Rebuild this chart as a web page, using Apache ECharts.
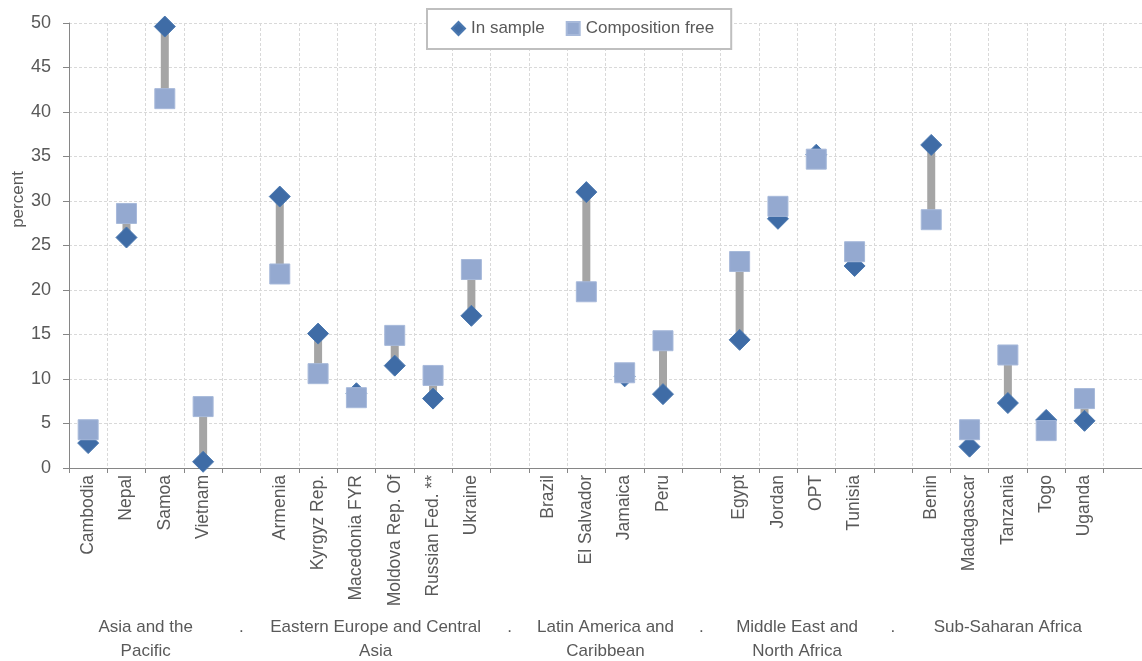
<!DOCTYPE html>
<html>
<head>
<meta charset="utf-8">
<script src="https://cdn.jsdelivr.net/npm/echarts@6/dist/echarts.min.js"></script>
<style>html,body{margin:0;padding:0;background:#fff}#c{width:1142px;height:661px}</style>
</head>
<body>
<div id="c"></div>
<script>
const categories = ['Cambodia','Nepal','Samoa','Vietnam','','Armenia','Kyrgyz Rep.','Macedonia FYR','Moldova Rep. Of','Russian Fed. **','Ukraine','','Brazil','El Salvador','Jamaica','Peru','','Egypt','Jordan','OPT','Tunisia','','Benin','Madagascar','Tanzania','Togo','Uganda',''];
const inSample = [2.8,25.9,49.6,0.7,null,30.5,15.1,8.4,11.5,7.8,17.1,null,null,31.0,10.3,8.3,null,14.4,28.0,35.2,22.7,null,36.3,2.4,7.3,5.4,5.3,null];
const compositionFree = [4.3,28.6,41.5,6.9,null,21.8,10.6,7.9,14.9,10.4,22.3,null,null,19.8,10.7,14.3,null,23.2,29.4,34.7,24.3,null,27.9,4.3,12.7,4.2,7.8,null];
const groupPositions = [1.5,4,7.5,11,13.5,16,18.5,21,24];
const groupLabels = ['Asia and the\nPacific','.','Eastern Europe and Central\nAsia','.','Latin America and\nCaribbean','.','Middle East and\nNorth Africa','.','Sub-Saharan Africa'];
const yTicks = {min:0,max:50,interval:5};

const NARROW = "'Liberation Sans Narrow','Arial Narrow','Liberation Sans',Arial,sans-serif";
const REG = "'Liberation Sans',Arial,sans-serif";
const TXT = '#595959';

const rangeData = [];
categories.forEach((c,i)=>{
  if(inSample[i]!=null && compositionFree[i]!=null) rangeData.push([i,inSample[i],compositionFree[i]]);
});

const chart = echarts.init(document.getElementById('c'), null, {renderer:'canvas'});
chart.setOption({
  animation:false,
  backgroundColor:'#fff',
  grid:{left:69,right:0,top:23,bottom:193,containLabel:false,outerBoundsMode:'none'},
  legend:{
    left:427, top:9,
    padding:[11,17,12,24],
    itemGap:21, itemWidth:13, itemHeight:13,
    borderColor:'#BFBFBF', borderWidth:2, backgroundColor:'#fff',
    textStyle:{fontFamily:NARROW,fontSize:17,color:TXT,padding:[0,0,0,1]},
    data:[{name:'In sample',icon:'diamond'},{name:'Composition free',icon:'rect'}]
  },
  xAxis:[{
    type:'category', data:categories, gridIndex:0,
    axisLine:{onZero:false,lineStyle:{color:'#868686',width:1}},
    axisTick:{show:true,length:5,lineStyle:{color:'#868686'}},
    splitLine:{show:true,lineStyle:{color:'#D9D9D9',type:[3,2],width:1}},
    axisLabel:{rotate:90,interval:0,margin:7,fontFamily:REG,fontSize:17.5,color:TXT}
  },{
    type:'value', gridIndex:0, position:'bottom',
    min:-0.5, max:27.5,
    axisLine:{show:false,onZero:false}, axisTick:{show:false}, splitLine:{show:false},
    axisLabel:{
      show:true, margin:147, fontFamily:NARROW, fontSize:17, color:TXT, lineHeight:24,
      verticalAlign:'top', hideOverlap:false,
      customValues:groupPositions,
      formatter:function(v){
        for(let k=0;k<groupPositions.length;k++){ if(Math.abs(groupPositions[k]-v)<1e-6) return groupLabels[k]; }
        return '';
      }
    }
  }],
  yAxis:{
    type:'value', min:yTicks.min, max:yTicks.max, interval:yTicks.interval,
    name:'percent', nameLocation:'middle', nameGap:42, nameRotate:90, nameMoveOverlap:false,
    nameTextStyle:{fontFamily:REG,fontSize:17,color:TXT,padding:[0,0,0,92]},
    axisLine:{show:true,onZero:false,lineStyle:{color:'#868686',width:1}},
    axisTick:{show:true,length:6,lineStyle:{color:'#868686'}},
    splitLine:{show:true,lineStyle:{color:'#D9D9D9',type:[3,2],width:1}},
    axisLabel:{fontFamily:NARROW,fontSize:18,color:TXT,margin:18}
  },
  series:[{
    type:'custom', name:'range', z:1, silent:true,
    renderItem:function(params,api){
      const x=api.value(0);
      const p1=api.coord([x,api.value(1)]);
      const p2=api.coord([x,api.value(2)]);
      return {type:'line',shape:{x1:p1[0],y1:p1[1],x2:p2[0],y2:p2[1]},style:{stroke:'#A5A5A5',lineWidth:8}};
    },
    encode:{x:0,y:[1,2]},
    data:rangeData
  },{
    type:'scatter', name:'In sample', z:2,
    symbol:'diamond', symbolSize:21,
    itemStyle:{color:'#3F6CA6',borderColor:'#4A78B0',borderWidth:1,opacity:1},
    data:inSample
  },{
    type:'scatter', name:'Composition free', z:3,
    symbol:'rect', symbolSize:20,
    itemStyle:{color:'#94A9D0',borderColor:'#A7B9DA',borderWidth:1,opacity:1},
    data:compositionFree
  }]
});
</script>
</body>
</html>
